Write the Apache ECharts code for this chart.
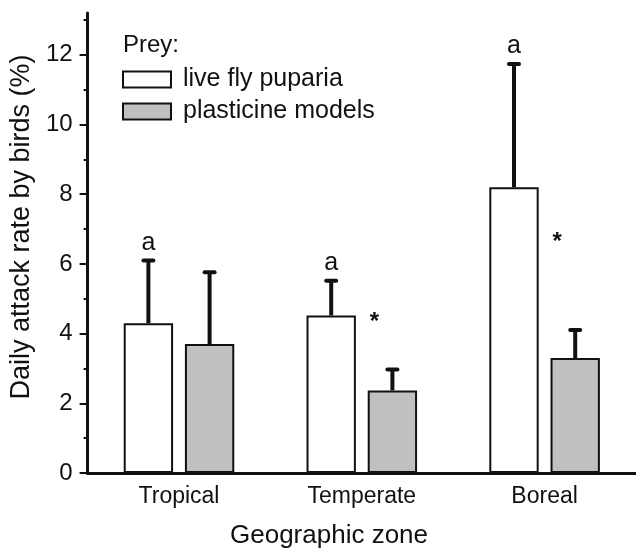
<!DOCTYPE html>
<html>
<head>
<meta charset="utf-8">
<script src="https://cdn.jsdelivr.net/npm/echarts@6/dist/echarts.min.js"></script>
<style>
  html, body { margin: 0; padding: 0; background: #fff; }
  #chart { width: 636px; height: 549px; }
</style>
</head>
<body>
<div id="chart"></div>
<script>
const zones = ['Tropical', 'Temperate', 'Boreal']
const liveMeans = [4.30, 4.52, 8.20]
const liveErrs = [1.80, 1.00, 3.54]
const modelMeans = [3.70, 2.37, 3.30]
const modelErrs = [2.06, 0.60, 0.80]
const liveLetters = ['a', 'a', 'a']
const starValues = [null, 4.4, 6.7]
const majorTicks = [0, 2, 4, 6, 8, 10, 12]
const minorTicks = [1, 3, 5, 7, 9, 11, 13]

const FONT = "'Liberation Sans', Arial, sans-serif"
const INK = '#111'
const BAR_W = 0.27
const BAR_GAP = 0.24

const chart = echarts.init(document.getElementById('chart'))

// error bars drawn over the bars; side -1 = left bar, +1 = right bar
const errorBars = (means, errs, side, letters, stars) => ({
  type: 'custom',
  z: 4,
  silent: true,
  data: means.map((m, i) => [i, m, m + errs[i], stars ? stars[i] : null]),
  renderItem: (params, api) => {
    const i = api.value(0)
    const band = api.size([1, 0])[0]
    const shift = side * band * (BAR_W + BAR_W * BAR_GAP) / 2
    const base = api.coord([i, api.value(1)])
    const top = api.coord([i, api.value(2)])
    const x = base[0] + shift
    const kids = [
      { type: 'line', shape: { x1: x, y1: base[1], x2: x, y2: top[1] },
        style: { stroke: INK, lineWidth: 4 } },
      { type: 'line', shape: { x1: x - 5, y1: top[1], x2: x + 5, y2: top[1] },
        style: { stroke: INK, lineWidth: 4, lineCap: 'round' } }
    ]
    if (letters) {
      kids.push({ type: 'text', x: x, y: top[1] - 5,
        style: { text: letters[params.dataIndex], fill: INK, font: '25px ' + FONT,
          textAlign: 'center', textVerticalAlign: 'bottom' } })
    }
    const s = api.value(3)
    if (stars && !isNaN(s) && s != null) {
      const p = api.coord([i, s])
      kids.push({ type: 'text', x: x - 18, y: p[1] + 3,
        style: { text: '*', fill: INK, font: 'bold 24px ' + FONT,
          textAlign: 'center', textVerticalAlign: 'middle' } })
    }
    return { type: 'group', children: kids }
  }
})

chart.setOption({
  animation: false,
  textStyle: { fontFamily: FONT, color: INK },
  title: [
    { text: 'Prey:', left: 118, top: 28,
      textStyle: { fontSize: 24, fontWeight: 'normal', color: INK, fontFamily: FONT } },
    { text: 'Geographic zone', left: 225, top: 518,
      textStyle: { fontSize: 26, fontWeight: 'normal', color: INK, fontFamily: FONT } }
  ],
  legend: {
    orient: 'vertical',
    left: 117,
    top: 62,
    itemWidth: 48,
    itemHeight: 16,
    itemGap: 7,
    icon: 'rect',
    textStyle: { fontSize: 25, lineHeight: 24, color: INK, fontFamily: FONT, padding: [0, 0, 0, 7] },
    data: [
      { name: 'live fly puparia', itemStyle: { color: '#fff', borderColor: INK, borderWidth: 2 } },
      { name: 'plasticine models', itemStyle: { color: '#c0c0c0', borderColor: INK, borderWidth: 2 } }
    ]
  },
  grid: { left: 86, right: 0, top: 13, bottom: 76 },
  xAxis: {
    type: 'category',
    data: zones,
    axisLine: { lineStyle: { color: INK, width: 3 } },
    axisTick: { show: false },
    axisLabel: { fontSize: 23, color: INK, margin: 12, fontFamily: FONT }
  },
  yAxis: [
    {
      type: 'value',
      min: 0,
      max: 13.2,
      position: 'left',
      name: 'Daily attack rate by birds (%)',
      nameLocation: 'middle',
      nameGap: 48,
      nameTextStyle: { fontSize: 27, color: INK, fontFamily: FONT, padding: [0, 0, 0, 32] },
      axisLine: { show: true, lineStyle: { color: INK, width: 3 } },
      axisTick: { show: true, length: 8, customValues: majorTicks, lineStyle: { color: INK, width: 2 } },
      axisLabel: { fontSize: 24, color: INK, margin: 15, fontFamily: FONT, customValues: majorTicks },
      splitLine: { show: false }
    },
    {
      type: 'value',
      min: 0,
      max: 13.2,
      position: 'left',
      axisLine: { show: false },
      axisTick: { show: true, length: 4, customValues: minorTicks, lineStyle: { color: INK, width: 2 } },
      axisLabel: { show: false },
      splitLine: { show: false }
    }
  ],
  series: [
    {
      name: 'live fly puparia',
      type: 'bar',
      data: liveMeans,
      barWidth: (BAR_W * 100) + '%',
      barGap: (BAR_GAP * 100) + '%',
      itemStyle: { color: '#fff', borderColor: INK, borderWidth: 2 }
    },
    {
      name: 'plasticine models',
      type: 'bar',
      data: modelMeans,
      barWidth: (BAR_W * 100) + '%',
      barGap: (BAR_GAP * 100) + '%',
      itemStyle: { color: '#c0c0c0', borderColor: INK, borderWidth: 2 }
    },
    errorBars(liveMeans, liveErrs, -1, liveLetters, null),
    errorBars(modelMeans, modelErrs, 1, null, starValues)
  ]
})
</script>
</body>
</html>
